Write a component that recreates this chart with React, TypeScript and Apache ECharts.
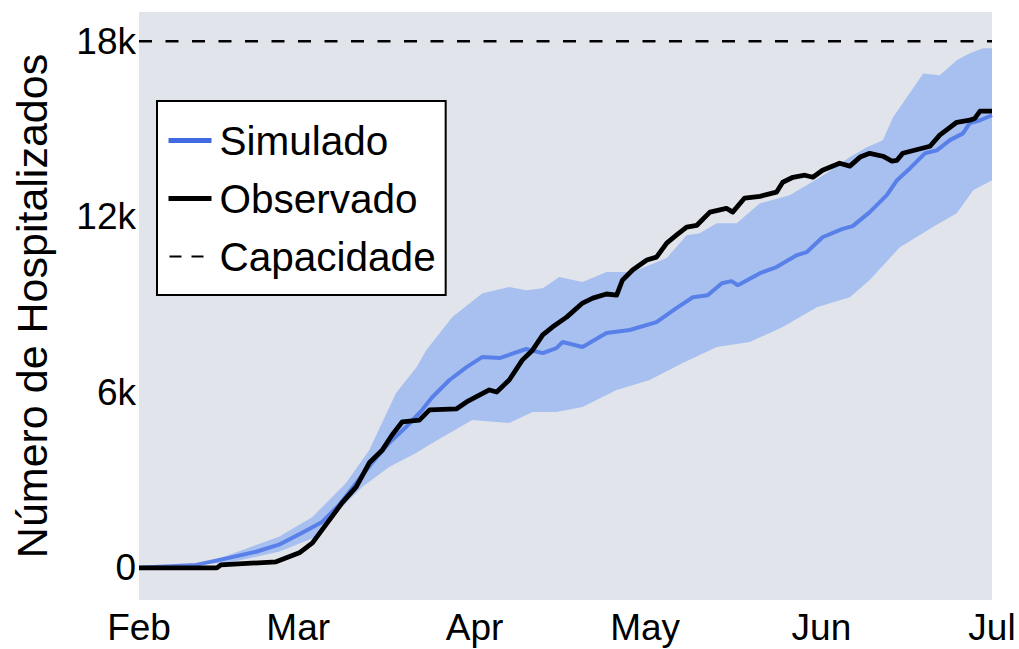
import React, { useEffect, useRef } from "react";
import * as echarts from "echarts";

// x = days since Feb 1 (2021), y = hospitalised count
const monthTicks = [0, 28, 59, 89, 120, 150];
const monthLabels = ["Feb", "Mar", "Apr", "May", "Jun", "Jul"];
const yTicks = [0, 6000, 12000, 18000];
const capacity = 18000;

const observed: [number, number][] = [
  [0, 0], [13.7, 0], [14.4, 100], [24.1, 205], [28.2, 512], [30.5, 854], [33.5, 1640],
  [35.7, 2220], [38.2, 2770], [40.5, 3590], [42.8, 4030], [44.5, 4540], [46.3, 4990],
  [49.3, 5050], [51.1, 5400], [55.8, 5430], [57.6, 5670], [61.6, 6080], [62.9, 6010],
  [65.1, 6420], [67.4, 7100], [69.2, 7440], [71.0, 7960], [72.7, 8230], [75.2, 8570],
  [78.0, 9050], [79.8, 9220], [82.2, 9360], [84.0, 9320], [85.0, 9830], [86.8, 10180],
  [89.3, 10520], [91.0, 10620], [92.8, 11100], [94.5, 11370], [96.3, 11650], [98.1, 11710],
  [100.4, 12160], [103.3, 12290], [104.4, 12160], [106.5, 12640], [109.2, 12700],
  [112.1, 12840], [113.2, 13180], [115.0, 13350], [117.1, 13420], [118.5, 13350],
  [120.2, 13590], [123.2, 13830], [125.0, 13730], [126.8, 14040], [128.5, 14170],
  [130.8, 14070], [132.4, 13900], [133.3, 13930], [134.3, 14170], [139.1, 14410],
  [140.8, 14790], [143.8, 15230], [146.1, 15300], [147.0, 15370], [147.9, 15610], [150, 15610],
];

const simulated: [number, number][] = [
  [0, 0], [10, 100], [15.8, 340], [20.6, 550], [24.6, 790], [28.7, 1200], [32.2, 1570],
  [35.2, 2150], [38.2, 2900], [41.0, 3590], [44.0, 4270], [47.0, 4820], [49.8, 5400],
  [51.6, 5840], [54.6, 6420], [57.6, 6860], [60.4, 7210], [63.4, 7170], [68.1, 7480],
  [71.0, 7340], [73.4, 7510], [74.5, 7720], [78.0, 7550], [82.2, 8030], [86.3, 8130],
  [91.0, 8400], [94.5, 8880], [97.4, 9250], [100, 9320], [102.5, 9730], [104.2, 9800],
  [105.3, 9660], [109.2, 10070], [112.1, 10280], [115.7, 10690], [117.4, 10790],
  [120.2, 11300], [123.6, 11580], [125.5, 11680], [128.5, 12160], [131.5, 12740],
  [133.3, 13250], [135.6, 13660], [138.2, 14170], [140.3, 14270], [142.6, 14620],
  [144.9, 14850], [146.1, 15200], [147.9, 15300], [150, 15470],
];

const bandUpper: [number, number][] = [
  [0, 0], [10, 70], [15.8, 440], [24.6, 1060], [30.5, 1740], [36.4, 2900], [40.5, 4030],
  [45.2, 5980], [48.8, 6860], [50.5, 7440], [55.1, 8570], [60.4, 9390], [65.1, 9600],
  [68.1, 9490], [71.0, 9560], [73.9, 9940], [78.0, 9770], [82.2, 10110], [86.8, 10110],
  [92.8, 10590], [96.3, 11370], [98.6, 11440], [101.6, 11780], [105.1, 11780],
  [109.2, 12460], [114.4, 12740], [117.4, 13080], [120.9, 13490], [125.0, 14040],
  [128.0, 14380], [130.8, 14620], [132.6, 15400], [135.0, 16080], [137.9, 16900],
  [140.8, 16840], [143.8, 17350], [146.1, 17590], [148.4, 17760], [150, 17760],
];

const bandLower: [number, number][] = [
  [0, 0], [15.8, 170], [24.6, 550], [31.2, 1060], [36.4, 2220], [39.3, 2770], [44.0, 3450],
  [48.8, 3930], [51.6, 4270], [58.6, 5050], [65.1, 4950], [69.2, 5330], [73.4, 5330],
  [78.0, 5500], [84.0, 6080], [89.8, 6420], [95.6, 7000], [101.6, 7550], [107.4, 7720],
  [113.2, 8230], [119.2, 8910], [125.0, 9250], [128.5, 9840], [133.8, 10960],
  [139.6, 11650], [143.8, 12120], [146.7, 12910], [150, 13250],
];

const FONT = "Liberation Sans, Arial, sans-serif";

export default function App() {
  const ref = useRef<HTMLDivElement>(null);
  useEffect(() => {
    if (!ref.current) return;
    const chart = echarts.init(ref.current, null, { renderer: "svg" });
    chart.setOption({
      animation: false,
      backgroundColor: "#ffffff",
      textStyle: { fontFamily: FONT },
      grid: {
        left: 139,
        right: 27,
        top: 12,
        bottom: 49,
        show: true,
        backgroundColor: "#e1e4ea",
        borderWidth: 0,
      },
      legend: {
        orient: "vertical",
        left: 157,
        top: 101,
        backgroundColor: "#ffffff",
        borderColor: "#000000",
        borderWidth: 2,
        borderRadius: 0,
        padding: [19, 10, 18, 9],
        itemWidth: 43,
        itemHeight: 14,
        itemGap: 17,
        itemStyle: { opacity: 0, color: "rgba(0,0,0,0)", borderWidth: 0 },
        textStyle: {
          fontSize: 40.5,
          color: "#000",
          fontFamily: FONT,
          lineHeight: 40,
          padding: [0, 0, 0, 3],
        },
        data: [
          { name: "Simulado", lineStyle: { color: "#4169e1", width: 5, opacity: 1 } },
          { name: "Observado", lineStyle: { color: "#000", width: 5 } },
          { name: "Capacidade", lineStyle: { color: "#000", width: 2, type: [12, 10], dashOffset: -1 } },
        ],
      },
      xAxis: {
        type: "value",
        min: 0,
        max: 150,
        splitLine: { show: false },
        axisLine: { show: false },
        axisTick: { show: false },
        axisLabel: {
          customValues: monthTicks,
          formatter: (v: number) => monthLabels[monthTicks.indexOf(v)] ?? "",
          fontSize: 37,
          color: "#000",
          fontFamily: FONT,
          margin: 9,
        },
      },
      yAxis: {
        type: "value",
        min: -1100,
        max: 19000,
        name: "Número de Hospitalizados",
        nameLocation: "middle",
        nameGap: 86,
        nameTextStyle: { fontSize: 43, color: "#000", fontFamily: FONT },
        splitLine: { show: false },
        axisLine: { show: false },
        axisTick: { show: false },
        axisLabel: {
          customValues: yTicks,
          formatter: (v: number) => (v === 0 ? "0" : v / 1000 + "k"),
          fontSize: 37,
          color: "#000",
          fontFamily: FONT,
          margin: 3,
        },
      },
      series: [
        {
          name: "band",
          type: "custom",
          silent: true,
          clip: true,
          data: bandUpper,
          encode: { x: 0, y: 1 },
          renderItem: (params: any, api: any) => {
            if (params.dataIndex !== 0) return null;
            const pts: number[][] = [];
            bandUpper.forEach((p) => pts.push(api.coord(p)));
            for (let i = bandLower.length - 1; i >= 0; i--) pts.push(api.coord(bandLower[i]));
            return {
              type: "polygon",
              shape: { points: pts },
              style: { fill: "#a8c0f0", stroke: "none" },
            };
          },
          z: 1,
        },
        {
          name: "Simulado",
          type: "line",
          data: simulated,
          symbol: "none",
          color: "#4a74e6",
          lineStyle: { color: "#4a74e6", width: 4, opacity: 0.85 },
          z: 2,
        },
        {
          name: "Observado",
          type: "line",
          data: observed,
          symbol: "none",
          color: "#000",
          lineStyle: { color: "#000", width: 4.8, join: "round" },
          z: 3,
        },
        {
          name: "Capacidade",
          type: "line",
          data: [
            [0, capacity],
            [150, capacity],
          ],
          symbol: "none",
          color: "#000",
          lineStyle: { color: "#000", width: 2.5, type: [13, 13.5] },
          z: 3,
        },
      ],
    });
    return () => chart.dispose();
  }, []);
  return (
    <div
      ref={ref}
      style={{ position: "absolute", left: 0, top: 0, width: 1019, height: 649 }}
    />
  );
}
